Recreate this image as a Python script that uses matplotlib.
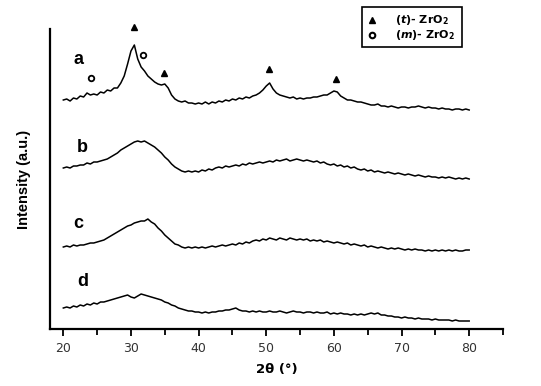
import matplotlib
matplotlib.use("Agg")
import matplotlib.pyplot as plt
import numpy as np
from matplotlib.lines import Line2D
from matplotlib.patches import Rectangle

# 2theta grid, 0.5 deg step
two_theta = np.arange(20, 80.01, 0.5)

# intensities (a.u., with the vertical offsets of the stack)
curve_a = [229, 230, 228, 231, 230, 233, 232, 236, 234, 235,
           234, 237, 236, 239, 238, 241, 241, 246, 253, 265,
           278, 284, 270, 262, 258, 253, 250, 247, 245, 244,
           245, 241, 234, 230, 228, 227, 228, 226, 226, 225,
           226, 225, 227, 225, 227, 226, 228, 227, 229, 228,
           230, 229, 231, 230, 232, 231, 233, 234, 236, 239,
           243, 246, 240, 236, 234, 233, 232, 231, 232, 230,
           231, 230, 231, 231, 232, 232, 233, 234, 234, 236,
           238, 237, 233, 231, 229, 229, 228, 227, 227, 226,
           225, 224, 224, 225, 223, 223, 222, 223, 222, 221,
           222, 222, 221, 222, 222, 223, 222, 221, 222, 221,
           221, 220, 221, 220, 220, 219, 220, 220, 219, 220,
           219]
curve_b = [161, 162, 161, 163, 163, 164, 164, 166, 165, 167,
           167, 168, 169, 170, 172, 174, 176, 179, 181, 183,
           185, 187, 188, 187, 188, 186, 184, 182, 179, 176,
           172, 169, 165, 162, 160, 158, 157, 158, 157, 158,
           157, 159, 158, 160, 159, 161, 162, 161, 163, 162,
           163, 164, 163, 165, 164, 166, 165, 166, 167, 166,
           167, 168, 167, 169, 168, 169, 170, 168, 169, 170,
           169, 168, 169, 168, 167, 168, 166, 167, 165, 164,
           165, 163, 164, 162, 163, 161, 162, 160, 159, 160,
           158, 159, 157, 158, 157, 156, 157, 156, 155, 156,
           155, 154, 155, 154, 153, 154, 153, 152, 153, 152,
           152, 151, 152, 151, 152, 151, 150, 151, 150, 151,
           150]
curve_c = [82, 83, 82, 84, 83, 84, 84, 85, 86, 86,
           87, 88, 89, 91, 93, 95, 97, 99, 101, 103,
           104, 106, 107, 108, 108, 110, 107, 105, 101, 98,
           94, 91, 88, 85, 84, 82, 81, 82, 81, 82,
           81, 82, 81, 82, 83, 82, 83, 84, 83, 84,
           85, 84, 86, 85, 87, 86, 88, 89, 88, 90,
           89, 91, 90, 89, 91, 90, 89, 91, 90, 89,
           90, 89, 90, 88, 89, 88, 89, 87, 88, 87,
           86, 87, 86, 85, 86, 84, 85, 84, 83, 84,
           82, 83, 82, 81, 82, 81, 80, 81, 80, 81,
           80, 79, 80, 79, 80, 79, 79, 78, 79, 78,
           79, 78, 79, 78, 79, 78, 79, 78, 78, 79,
           79]
curve_d = [21, 22, 21, 23, 22, 24, 23, 25, 24, 26,
           25, 27, 27, 28, 29, 30, 31, 32, 33, 34,
           32, 31, 33, 35, 34, 33, 32, 31, 30, 29,
           27, 26, 24, 23, 21, 20, 19, 18, 18, 17,
           17, 16, 17, 16, 17, 17, 18, 18, 19, 19,
           20, 21, 19, 18, 18, 17, 18, 17, 18, 17,
           17, 18, 17, 17, 18, 17, 16, 17, 18, 17,
           17, 16, 17, 17, 16, 17, 16, 16, 17, 15,
           16, 15, 16, 15, 15, 14, 15, 14, 15, 14,
           15, 16, 15, 16, 14, 14, 13, 13, 12, 12,
           11, 12, 11, 11, 10, 11, 10, 10, 10, 9,
           10, 9, 9, 9, 9, 8, 9, 8, 8, 8,
           8]

# phase markers over pattern a
tetra_x = [30.4, 34.9, 50.4, 60.3]
tetra_y = [302, 256, 260, 250]
mono_x = [24.1, 31.8]
mono_y = [251, 274]

sample_names = ["a", "b", "c", "d"]
name_x = [21.5, 22.0, 21.5, 22.0]
name_y = [269, 181, 106, 47]

fig = plt.figure(figsize=(5.41, 3.86), dpi=100)
ax = fig.add_axes([50 / 541, 57 / 386, 453 / 541, 300 / 386])

for y in [curve_a, curve_b, curve_c, curve_d]:
    ax.plot(two_theta, y, color="black", lw=1.1)

ax.plot(tetra_x, tetra_y, ls="none", marker="^", ms=5, color="black", clip_on=False)
ax.plot(mono_x, mono_y, ls="none", marker="o", ms=4, mfc="white", mec="black",
        mew=1.3, clip_on=False)

for name, x, y in zip(sample_names, name_x, name_y):
    ax.text(x, y, name, fontsize=13, fontweight="bold", family="Liberation Sans",
            ha="left", va="center")

ax.set_xlim(18.03, 85)
ax.set_ylim(0, 300)
ax.set_xticks(np.arange(20, 81, 10))
ax.set_xticks(np.arange(25, 86, 10), minor=True)
ax.set_yticks([])
ax.spines["top"].set_visible(False)
ax.spines["right"].set_visible(False)
ax.spines["left"].set_linewidth(1.6)
ax.spines["bottom"].set_linewidth(1.6)
ax.tick_params(axis="x", which="major", length=5, width=1.3, labelsize=9,
               labelcolor="#333333", pad=4)
ax.tick_params(axis="x", which="minor", length=4, width=1.3)

ax.set_xlabel("2\u03b8 (\u00b0)", fontsize=9.5, fontweight="bold", labelpad=6)
ax.set_ylabel("Intensity (a.u.)", fontsize=10.5, fontweight="bold",
              family="Liberation Sans", labelpad=14)

# legend box
fig.patches.append(Rectangle((362 / 541, 1 - 47 / 386), 100 / 541, 40 / 386,
                             transform=fig.transFigure, fill=False,
                             edgecolor="black", lw=1.2))
fig.lines.append(Line2D([372 / 541], [1 - 20 / 386], transform=fig.transFigure,
                        marker="^", ms=5, color="black", ls="none"))
fig.lines.append(Line2D([372 / 541], [1 - 35 / 386], transform=fig.transFigure,
                        marker="o", ms=4, mfc="white", mec="black", mew=1.5, ls="none"))
fig.text(395 / 541, 1 - 20 / 386, r"($\mathbfit{t}$)- ZrO$_{\mathbf{2}}$", fontsize=8,
         fontweight="bold", va="center", ha="left")
fig.text(395 / 541, 1 - 35 / 386, r"($\mathbfit{m}$)- ZrO$_{\mathbf{2}}$", fontsize=8,
         fontweight="bold", va="center", ha="left")

fig.savefig("out.png", dpi=100)
